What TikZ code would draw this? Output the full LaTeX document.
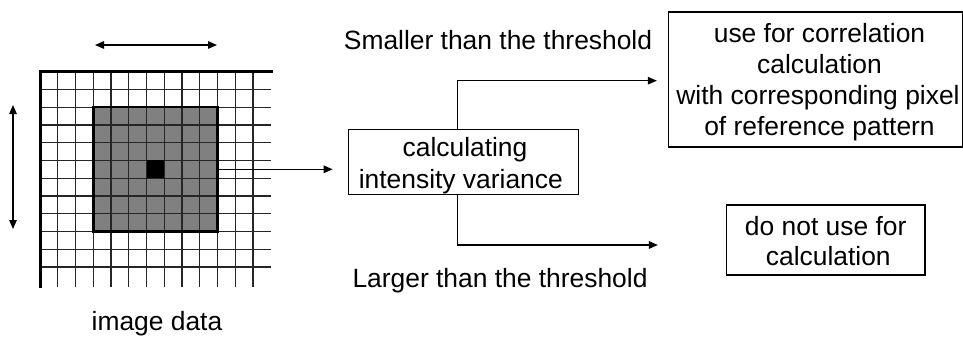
\documentclass[tikz,border=0pt]{standalone}
\usepackage{fontspec}
\setmainfont{Liberation Sans}
\usetikzlibrary{arrows.meta}
\tikzset{
  gridline/.style={line width=1.1pt, black!85},
  boxnode/.style={draw, line width=1.3pt, inner sep=0pt},
  conn/.style={line width=1.3pt, -{Triangle[length=9pt,width=7.5pt]}},
  dbl/.style={line width=1.3pt, {Triangle[length=9pt,width=7.5pt]}-{Triangle[length=9pt,width=7.5pt]}},
  lbl/.style={inner sep=0pt, anchor=base}
}
\begin{document}
\begin{tikzpicture}[x=1pt,y=-1pt, font=\fontsize{26.4}{31.3}\selectfont]
\useasboundingbox (0,0) rectangle (963,340);
% gray window fill
\fill[gray] (93.25,107.2) rectangle (217.5,231.45);
% grid lines
\foreach \k in {1,...,12} \draw[gridline] ({40+\k*17.75},71.7) -- ({40+\k*17.75},287);
\foreach \k in {1,...,11} \draw[gridline] (40,{71.7+\k*17.75}) -- (271,{71.7+\k*17.75});
% thick outer border
\draw[line width=3pt] (40,288) -- (40,71.7) -- (273,71.7);
% centre pixel
\fill[black] (146.5,160.45) rectangle (164.25,178.2);
% window border
\node[draw, line width=2.6pt, minimum width=124.25pt, minimum height=124.25pt, inner sep=0pt] (win) at (155.4,169.3) {};
% double arrows
\coordinate (ha) at (95,45); \coordinate (hb) at (217,45);
\draw[dbl] (ha) -- (hb);
\coordinate (va) at (13,105); \coordinate (vb) at (13,229);
\draw[dbl] (va) -- (vb);
\node[lbl] (img) at (157,330.5) {image data};
% boxes
\node[boxnode, minimum width=230pt, minimum height=65pt] (calc) at (463.3,162.2) {};
\node[lbl] (calc1) at (465,156.3) {calculating};
\node[lbl] (calc2) at (460.8,188) {intensity variance};
\node[boxnode, minimum width=294pt, minimum height=135pt] (use) at (815.5,79.5) {};
\node[lbl] (use1) at (819.5,42.3) {use for correlation};
\node[lbl] (use2) at (819.5,73.3) {calculation};
\node[lbl] (use3) at (818,104.3) {with corresponding pixel};
\node[lbl] (use4) at (819.5,135.6) {of reference pattern};
\node[boxnode, minimum width=198.5pt, minimum height=70pt] (nouse) at (825.75,240) {};
\node[lbl] (nouse1) at (825.7,235.7) {do not use for};
\node[lbl] (nouse2) at (828.3,265) {calculation};
% labels
\node[lbl] (small) at (498,49.3) {Smaller than the threshold};
\node[lbl] (large) at (500,287.5) {Larger than the threshold};
% connectors
\draw[conn, shorten >=15pt] (win.east) -- (win.east -| calc.west);
\coordinate (bx) at (457.7,0);
\draw[conn] (calc.north -| bx) |- ([xshift=-11pt,yshift=-1.2pt]use.west);
\draw[conn] (calc.south -| bx) |- ([xshift=-68pt,yshift=-5pt]nouse.west);
\end{tikzpicture}
\end{document}
